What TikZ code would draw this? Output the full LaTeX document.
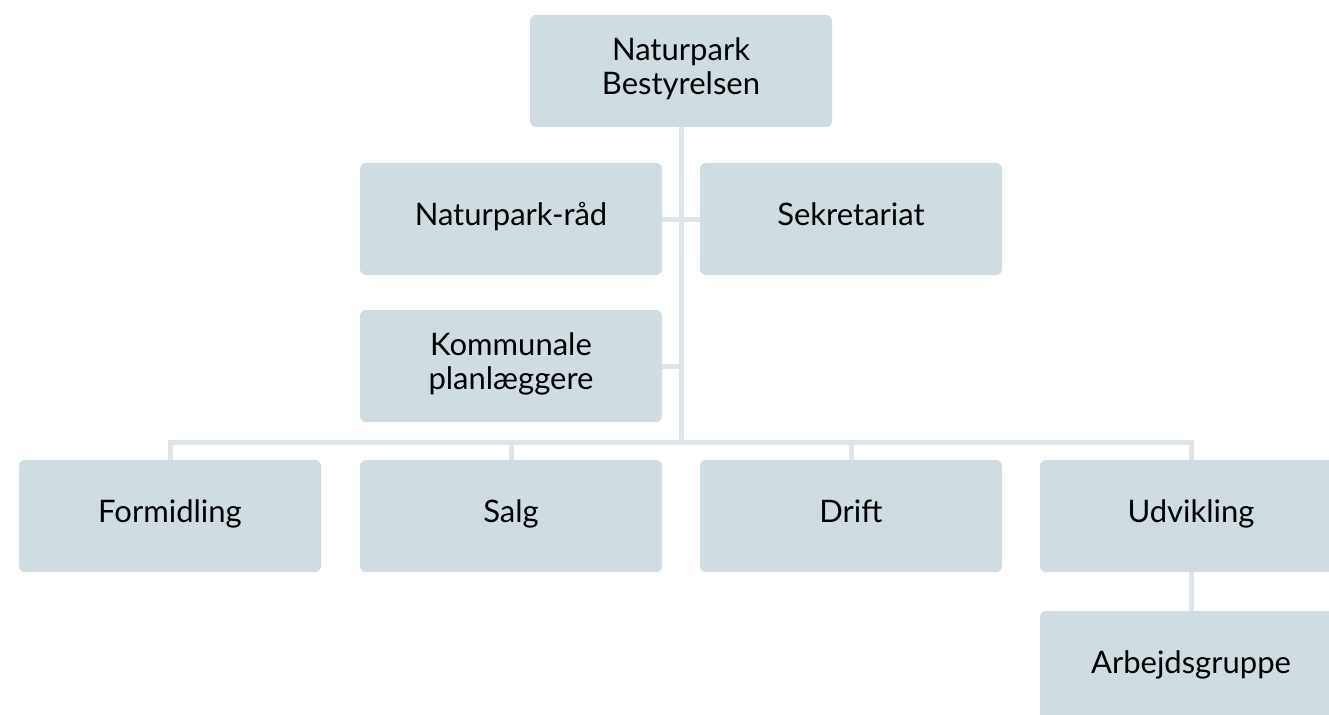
\documentclass[tikz,border=0pt]{standalone}
\usepackage{fontspec}
\setmainfont{Lato}
\usetikzlibrary{calc}
\definecolor{boxfill}{RGB}{207,220,226}
\definecolor{linkline}{RGB}{221,229,234}

\begin{document}
\begin{tikzpicture}[x=1pt, y=-1pt,
	orgbox/.style={rectangle, rounded corners=6pt, fill=boxfill, minimum width=302pt, minimum height=112pt, align=center, inner sep=0pt, font=\fontsize{31}{34}\selectfont, execute at begin node=\strut},
	link/.style={line width=5pt, color=linkline}]
			%%%%% START %%%%%
			
			\useasboundingbox (0, 0) rectangle (1329, 714);
			\clip (0, 0) rectangle (1329, 714);
			
			\node[orgbox] (board) at (681, 71) {Naturpark\\Bestyrelsen};
			
			\node[orgbox] (council) at (511, 219) {Naturpark-råd};
			\node[orgbox] (secretariat) at (851, 219) {Sekretariat};
			\node[orgbox] (planners) at (511, 366) {Kommunale\\planlæggere};
			
			\node[orgbox] (outreach) at (170, 516) {Formidling};
			\node[orgbox] (sales) at (511, 516) {Salg};
			\node[orgbox] (operations) at (851, 516) {Drift};
			\node[orgbox] (development) at (1191, 516) {Udvikling};
			
			\node[orgbox] (workgroup) at (1191, 667) {Arbejdsgruppe};
			
			\coordinate (bus) at (681, 442);
			
			\draw[link] (board.south) -- (bus);
			\draw[link] (council.east) -- (secretariat.west);
			\draw[link] (planners.east) -- (planners.east -| board.south);
			\draw[link] (outreach.north) |- (bus) -| (development.north);
			\draw[link] (sales.north) -- (sales.north |- bus);
			\draw[link] (operations.north) -- (operations.north |- bus);
			\draw[link] (development.south) -- (workgroup.north);
			
			%%%%% END %%%%%
		\end{tikzpicture}
\end{document}
